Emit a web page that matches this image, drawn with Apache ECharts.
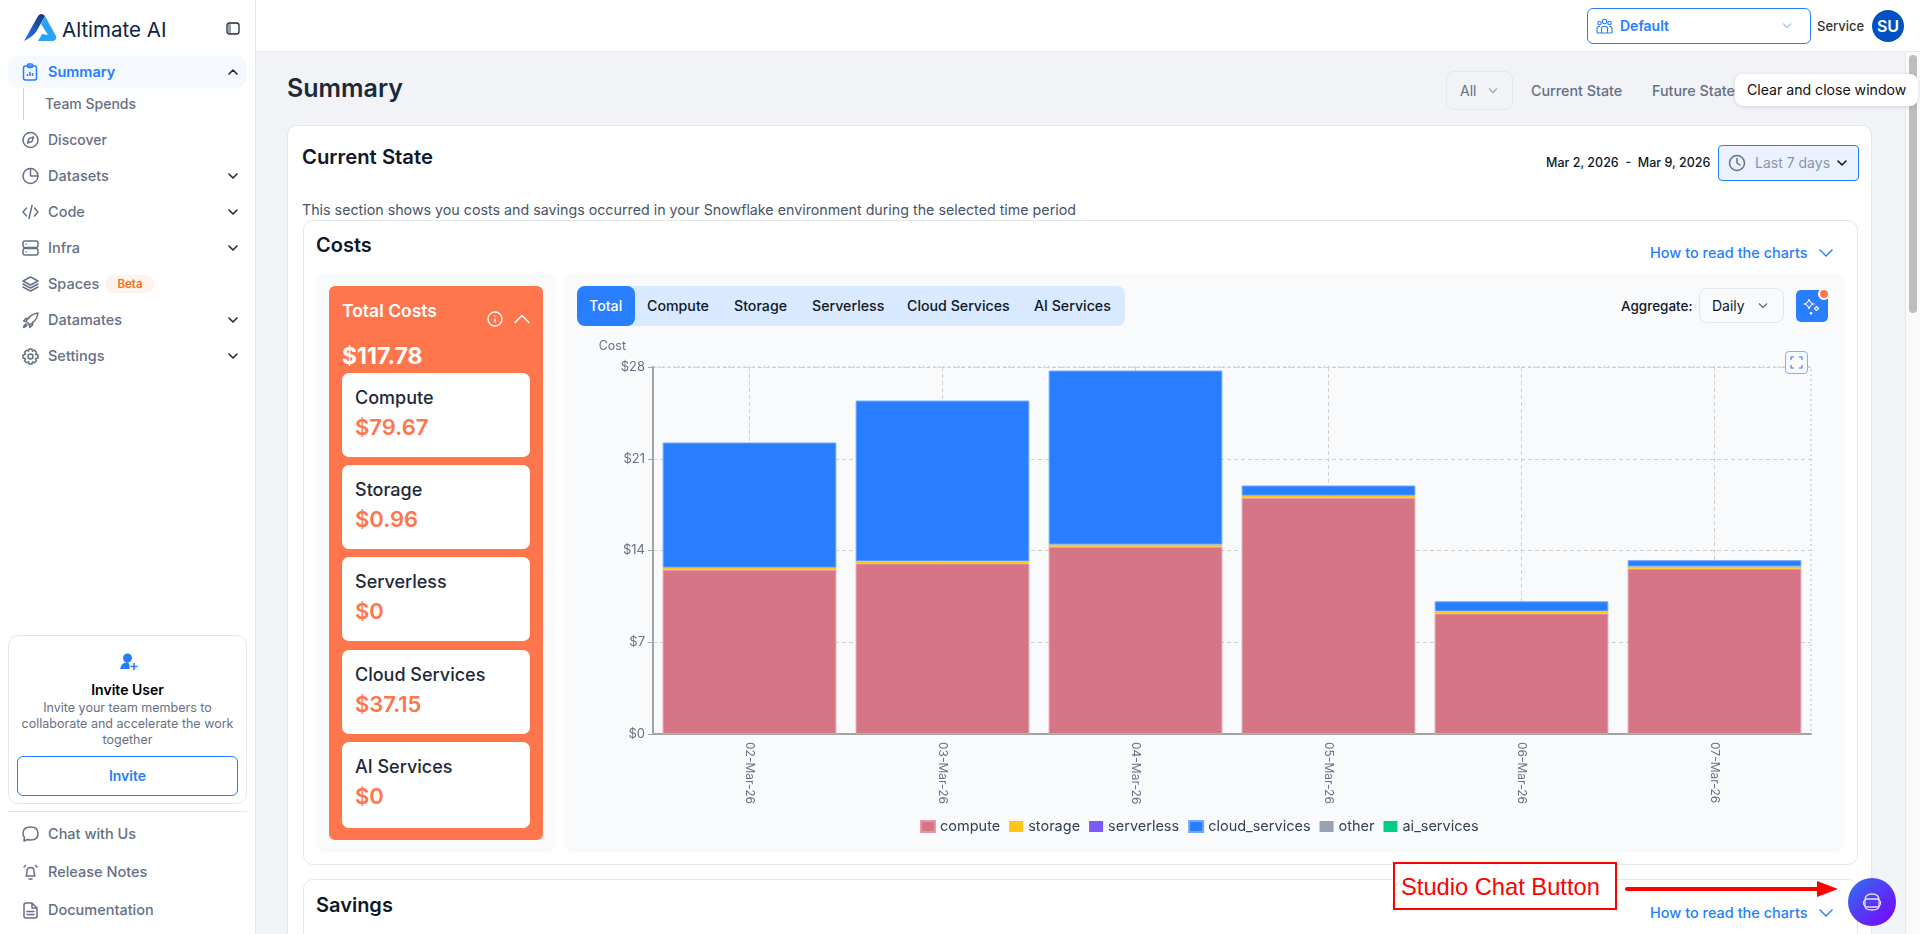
<!DOCTYPE html>
<html>
<head>
<meta charset="utf-8">
<title>Summary</title>
<script src="https://cdn.jsdelivr.net/npm/echarts@6/dist/echarts.min.js"></script>
<style>
  html, body { margin: 0; padding: 0; width: 1920px; height: 934px; overflow: hidden; background: #f2f3f7; font-family: Inter, "Noto Sans", sans-serif; color: #1d2939; }
  div, svg { position: absolute; box-sizing: border-box; }
  .t { white-space: nowrap; line-height: 20px; height: 20px; transform: translateY(-10px); }
  .nav { left: 48px; font-size: 14.5px; font-weight: 500; color: #667085; }
  .ic { fill: none; stroke: #667085; stroke-width: 1.5; stroke-linecap: round; stroke-linejoin: round; }
  .chev { fill: none; stroke: #1d2939; stroke-width: 1.6; stroke-linecap: round; stroke-linejoin: round; }
  .card { left: 342px; width: 188px; height: 84px; background: #fff; border-radius: 7px; }
  .card .l { left: 13px; top: 14px; font-size: 18px; font-weight: 500; white-space: nowrap; color: #1d2939; }
  .card .v { left: 13px; top: 41px; font-size: 22px; font-weight: 600; white-space: nowrap; color: #ff754c; }
  .tab { font-size: 14.2px; font-weight: 500; color: #101828; top: 306px; }
  .how { font-size: 14.5px; font-weight: 500; color: #247eff; left: 1650px; }
</style>
</head>
<body>

<!-- top bar -->
<div style="left:0;top:0;width:1920px;height:52px;background:#fff;border-bottom:1px solid #e8eaef"></div>
<div style="left:1587px;top:8px;width:224px;height:36px;border:1.5px solid #247eff;border-radius:6px;background:#fff"></div>
<svg style="left:1596px;top:18px" width="17" height="16" viewBox="0 0 17 16"><g fill="none" stroke="#247eff" stroke-width="1.1"><circle cx="8.5" cy="3.5" r="2.2"/><circle cx="3.5" cy="5" r="1.7"/><circle cx="13.5" cy="5" r="1.7"/><path d="M5.5 15V9.5q3-2.5 6 0V15M1 15V10q1-2 3-1.500M16 15V10q-1-2-3-1.500M1 15h15"/></g></svg>
<div class="t" style="left:1620px;top:26px;font-size:14px;font-weight:600;color:#247eff">Default</div>
<svg style="left:1781px;top:22px" width="12" height="8" viewBox="0 0 12 8"><path d="M2 1.500l4 4 4-4" fill="none" stroke="#a9c8f5" stroke-width="1.400"/></svg>
<div class="t" style="left:1817px;top:26px;font-size:13px;font-weight:500;color:#333">Service</div>
<div style="left:1872px;top:10px;width:32px;height:32px;border-radius:50%;background:#0052c4"></div>
<div class="t" style="left:1872px;width:32px;text-align:center;top:26px;font-size:16px;font-weight:600;color:#fff">SU</div>

<!-- sidebar -->
<div style="left:0;top:0;width:256px;height:934px;background:#fff;border-right:1px solid #e4e7ec"></div>
<svg style="left:24px;top:14px" width="33" height="28" viewBox="0 0 33 28"><defs><linearGradient id="lg" x1="0" y1="1" x2="1" y2="0"><stop offset="0" stop-color="#247eff"/><stop offset="1" stop-color="#10327a"/></linearGradient></defs><path d="M0 27L14 2q3-4 7 0l-9 16q-5 6-12 9z" fill="url(#lg)"/><path d="M21 2l11 20q1 5-4 5H14l4-7 6 1-7-11z" fill="#2aa2f5"/></svg>
<div class="t" style="left:62px;top:30px;font-size:20.500px;font-weight:400;color:#10213f">Altimate AI</div>
<svg style="left:226px;top:22px" width="14" height="13" viewBox="0 0 14 13"><rect x="1" y="1" width="12" height="11" rx="2.500" fill="none" stroke="#1d2939" stroke-width="1.300"/><rect x="2" y="2" width="3" height="9" fill="#98a2b3"/></svg>

<div style="left:8px;top:56px;width:239px;height:32px;background:#f5f8ff;border-radius:10px"></div>
<svg style="left:22px;top:63px" width="16" height="18" viewBox="0 0 16 18"><g fill="none" stroke="#247eff" stroke-width="1.500"><rect x="1.500" y="3" width="13" height="14" rx="2"/><rect x="5.500" y="1" width="5" height="3.500" rx="1"/><path d="M5.500 13v-2M8 13V9M10.500 13v-3"/></g></svg>
<div class="t nav" style="top:72px;color:#247eff;font-weight:600">Summary</div>
<svg style="left:227px;top:68px" width="12" height="8" viewBox="0 0 12 8"><path class="chev" d="M2 6l4-4 4 4"/></svg>
<div style="left:23px;top:88px;width:1px;height:32px;background:#d0d5dd"></div>
<div class="t nav" style="left:45px;top:104px;font-size:14px">Team Spends</div>

<svg class="ic" style="left:22px;top:131px" width="17" height="18" viewBox="0 0 17 18"><circle cx="8.500" cy="9" r="7.500"/><path d="M11.500 6l-1.500 4.500L5.500 12 7 7.500z"/></svg>
<div class="t nav" style="top:140px;font-size:14px">Discover</div>

<svg class="ic" style="left:22px;top:167px" width="17" height="18" viewBox="0 0 17 18"><circle cx="8.500" cy="9" r="7.500"/><path d="M8.500 1.500V9H16"/></svg>
<div class="t nav" style="top:176px">Datasets</div>
<svg style="left:227px;top:172px" width="12" height="8" viewBox="0 0 12 8"><path class="chev" d="M2 2l4 4 4-4"/></svg>

<svg class="ic" style="left:22px;top:204px" width="17" height="16" viewBox="0 0 17 16"><path d="M4.500 4L1 8l3.500 4M12.500 4L16 8l-3.500 4M10 1.500L7 14.500"/></svg>
<div class="t nav" style="top:212px">Code</div>
<svg style="left:227px;top:208px" width="12" height="8" viewBox="0 0 12 8"><path class="chev" d="M2 2l4 4 4-4"/></svg>

<svg class="ic" style="left:22px;top:240px" width="17" height="16" viewBox="0 0 17 16"><rect x="1" y="1" width="15" height="6.500" rx="2"/><rect x="1" y="8.500" width="15" height="6.500" rx="2"/><path d="M4 4.200h.1M4 11.800h.1"/></svg>
<div class="t nav" style="top:248px">Infra</div>
<svg style="left:227px;top:244px" width="12" height="8" viewBox="0 0 12 8"><path class="chev" d="M2 2l4 4 4-4"/></svg>

<svg class="ic" style="left:22px;top:276px" width="17" height="16" viewBox="0 0 17 16"><path d="M8.500 1L16 5l-7.500 4L1 5zM1 8l7.500 4L16 8M1 11l7.500 4 7.500-4"/></svg>
<div class="t nav" style="top:284px">Spaces</div>
<div style="left:105px;top:275px;width:50px;height:18px;background:#fff4ed;border-radius:9px"></div>
<div class="t" style="left:105px;width:50px;text-align:center;top:284px;font-size:11.500px;font-weight:600;color:#ff6b1a">Beta</div>

<svg class="ic" style="left:22px;top:312px" width="17" height="17" viewBox="0 0 17 17"><path d="M6 11L4 9.500Q8 2 16 1q-1 8-8.500 12zM4 9.500L1.500 9 4 6.500h3M7.500 13l.5 2.500 2.500-2.500v-3M4 12q-2 1-2.500 3.500Q4 15 5 13"/></svg>
<div class="t nav" style="top:320px">Datamates</div>
<svg style="left:227px;top:316px" width="12" height="8" viewBox="0 0 12 8"><path class="chev" d="M2 2l4 4 4-4"/></svg>

<svg class="ic" style="left:22px;top:348px" width="17" height="17" viewBox="0 0 17 17"><circle cx="8.500" cy="8.500" r="2.500"/><path d="M7 1h3l.5 2.200 2-1 2 2.100-1 2 2.500.7v3l-2.500.7 1 2-2 2.100-2-1L10 16H7l-.5-2.200-2 1-2-2.100 1-2L1 10V7l2.500-.7-1-2 2-2.100 2 1z"/></svg>
<div class="t nav" style="top:356px">Settings</div>
<svg style="left:227px;top:352px" width="12" height="8" viewBox="0 0 12 8"><path class="chev" d="M2 2l4 4 4-4"/></svg>

<div style="left:8px;top:635px;width:239px;height:169px;border:1px solid #e4e7ec;border-radius:10px"></div>
<svg style="left:120px;top:653px" width="18" height="18" viewBox="0 0 18 18"><circle cx="7.500" cy="5" r="4.500" fill="#247eff"/><path d="M0 16q1-6 7.500-7 2 1 2 3.500V16z" fill="#247eff"/><path d="M14 10v7M10.500 13.500h7" stroke="#247eff" stroke-width="1.600"/></svg>
<div class="t" style="left:8px;width:239px;text-align:center;top:690px;font-size:14px;font-weight:600;color:#000">Invite User</div>
<div class="t" style="left:8px;width:239px;text-align:center;top:708px;font-size:12.500px;color:#667085">Invite your team members to</div>
<div class="t" style="left:8px;width:239px;text-align:center;top:724px;font-size:12.500px;color:#667085">collaborate and accelerate the work</div>
<div class="t" style="left:8px;width:239px;text-align:center;top:740px;font-size:12.500px;color:#667085">together</div>
<div style="left:17px;top:756px;width:221px;height:40px;border:1px solid #247eff;border-radius:6px"></div>
<div class="t" style="left:17px;width:221px;text-align:center;top:776px;font-size:14px;font-weight:600;color:#247eff">Invite</div>
<div style="left:8px;top:811px;width:239px;height:1px;background:#e4e7ec"></div>
<svg class="ic" style="left:22px;top:826px" width="17" height="16" viewBox="0 0 17 16"><path d="M2 15l.5-3.500Q1 9.800 1 7.500 1 1 8.500 1T16 7.500 8.500 14q-2 0-3-.5z"/></svg>
<div class="t nav" style="top:834px">Chat with Us</div>
<svg class="ic" style="left:22px;top:864px" width="17" height="17" viewBox="0 0 17 17"><path d="M4 12q1-2 1-5 0-3.500 3.500-3.500T12 7q0 3 1 5zM7 15h3M2 3l1.500-1.500M15 3l-1.500-1.500"/></svg>
<div class="t nav" style="top:872px">Release Notes</div>
<svg class="ic" style="left:23px;top:902px" width="15" height="17" viewBox="0 0 15 17"><path d="M3 1h6l5 5v8q0 2-2 2H3q-2 0-2-2V3q0-2 2-2zM9 1v5h5M4 9.500h7M4 12.500h7"/></svg>
<div class="t nav" style="top:910px">Documentation</div>

<!-- page head -->
<div class="t" style="left:287px;top:88px;font-size:25px;font-weight:600;color:#1d2939">Summary</div>
<div style="left:1446px;top:71px;width:67px;height:39px;border:1px solid #e4e7ec;border-radius:8px"></div>
<div class="t" style="left:1460px;top:91px;font-size:14px;color:#667085">All</div>
<svg style="left:1487px;top:87px" width="12" height="8" viewBox="0 0 12 8"><path d="M2 1.500l4 4 4-4" fill="none" stroke="#a0a8b5" stroke-width="1.300"/></svg>
<div class="t" style="left:1531px;top:91px;font-size:14.300px;font-weight:500;color:#667085">Current State</div>
<div class="t" style="left:1652px;top:91px;font-size:14.300px;font-weight:500;color:#667085">Future State</div>

<!-- main card -->
<div style="left:287px;top:125px;width:1585px;height:830px;background:#fff;border:1px solid #e4e7ec;border-radius:10px"></div>
<div class="t" style="left:302px;top:157px;font-size:20.300px;font-weight:600;color:#101828">Current State</div>
<div class="t" style="left:1546px;top:163px;font-size:12.500px;font-weight:500;color:#101828">Mar 2, 2026&nbsp; - &nbsp;Mar 9, 2026</div>
<div style="left:1718px;top:145px;width:141px;height:36px;background:#eaf2ff;border:1px solid #247eff;border-radius:4px"></div>
<svg class="ic" style="left:1728px;top:154px" width="18" height="18" viewBox="0 0 18 18"><circle cx="9" cy="9" r="7.500"/><path d="M9 4.500V9l3 2"/></svg>
<div class="t" style="left:1755px;top:163px;font-size:14px;color:#8a94a6">Last 7 days</div>
<svg style="left:1836px;top:159px" width="12" height="8" viewBox="0 0 12 8"><path class="chev" d="M2 2l4 4 4-4" style="stroke:#101828"/></svg>
<div class="t" style="left:302px;top:210px;font-size:14.250px;color:#475467">This section shows you costs and savings occurred in your Snowflake environment during the selected time period</div>

<!-- costs card -->
<div style="left:303px;top:220px;width:1555px;height:645px;background:#fff;border:1px solid #e4e7ec;border-radius:10px"></div>
<div class="t" style="left:316px;top:245px;font-size:20px;font-weight:600;color:#101828">Costs</div>
<div class="t how" style="top:253px">How to read the charts</div>
<svg style="left:1818px;top:248px" width="16" height="10" viewBox="0 0 16 10"><path d="M1.500 1.500L8 8l6.500-6.500" fill="none" stroke="#247eff" stroke-width="1.400"/></svg>

<!-- cost summary -->
<div style="left:316px;top:273px;width:240px;height:579px;background:#f9fafc;border-radius:10px"></div>
<div style="left:329px;top:286px;width:214px;height:554px;background:#ff754c;border-radius:6px"></div>
<div class="t" style="left:342px;top:311px;font-size:17.500px;font-weight:600;color:#fff">Total Costs</div>
<svg style="left:487px;top:311px" width="16" height="16" viewBox="0 0 16 16"><g fill="none" stroke="#fff" stroke-width="1.300"><circle cx="8" cy="8" r="7"/><path d="M8 7.500v4M8 4.500v1"/></g></svg>
<svg style="left:513px;top:313px" width="18" height="12" viewBox="0 0 18 12"><path d="M1.500 10L9 2.500 16.500 10" fill="none" stroke="#fff" stroke-width="1.500"/></svg>
<div class="t" style="left:342px;top:356px;font-size:23px;font-weight:700;color:#fff">$117.78</div>
<div class="card" style="top:373px"><div class="l">Compute</div><div class="v">$79.67</div></div>
<div class="card" style="top:465px"><div class="l">Storage</div><div class="v">$0.96</div></div>
<div class="card" style="top:557px"><div class="l">Serverless</div><div class="v">$0</div></div>
<div class="card" style="top:650px"><div class="l">Cloud Services</div><div class="v">$37.15</div></div>
<div class="card" style="top:742px;height:86px"><div class="l">AI Services</div><div class="v">$0</div></div>

<!-- chart panel -->
<div style="left:564px;top:273px;width:1281px;height:579px;background:#f9fafc;border-radius:10px"></div>
<div style="left:577px;top:286px;width:548px;height:40px;background:#d9e9ff;border-radius:8px"></div>
<div style="left:577px;top:286px;width:58px;height:40px;background:#287eff;border-radius:8px"></div>
<div class="t tab" style="left:589px;color:#fff">Total</div>
<div class="t tab" style="left:647px">Compute</div>
<div class="t tab" style="left:734px">Storage</div>
<div class="t tab" style="left:812px">Serverless</div>
<div class="t tab" style="left:907px">Cloud Services</div>
<div class="t tab" style="left:1034px">AI Services</div>
<div class="t" style="left:1621px;top:306px;font-size:13.500px;font-weight:500;color:#101828">Aggregate:</div>
<div style="left:1699px;top:288px;width:85px;height:35px;border:1px solid #e4e7ec;border-radius:8px"></div>
<div class="t" style="left:1712px;top:306px;font-size:14px;color:#101828">Daily</div>
<svg style="left:1757px;top:302px" width="12" height="8" viewBox="0 0 12 8"><path d="M2 1.500l4 4 4-4" fill="none" stroke="#667085" stroke-width="1.300"/></svg>
<div style="left:1796px;top:290px;width:32px;height:32px;background:#287eff;border-radius:5px"></div>
<svg style="left:1802px;top:296px" width="20" height="22" viewBox="0 0 20 22"><g fill="none" stroke="#fff" stroke-width="1.200"><path d="M7 3q.8 4 4.500 5Q7.800 9 7 13q-.8-4-4.500-5Q6.200 7 7 3z"/><path d="M14.500 10q.4 2 2.500 2.500-2.100.5-2.500 2.500-.4-2-2.500-2.500 2.100-.5 2.500-2.500z"/><path d="M9 16q.2 1 1.200 1.200Q9.200 17.500 9 18.500q-.2-1-1.200-1.300Q8.800 17 9 16z"/></g></svg>
<div style="left:1817.500px;top:288px;width:12px;height:12px;background:#ff754c;border:2px solid #fff;border-radius:50%"></div>

<!-- chart -->
<div id="costChart" style="left:565px;top:330px;width:1280px;height:520px"></div>
<div style="left:1785px;top:351px;width:23px;height:23px;border:1px solid #7fb0fb;border-radius:4px;background:#f9fafc"></div>
<svg style="left:1790px;top:356px" width="13" height="13" viewBox="0 0 13 13"><path d="M1 4V1h3M9 1h3v3M12 9v3H9M4 12H1V9" fill="none" stroke="#247eff" stroke-width="1.100"/></svg>

<!-- savings card -->
<div style="left:303px;top:879px;width:1555px;height:80px;background:#fff;border:1px solid #e4e7ec;border-radius:10px"></div>
<div class="t" style="left:316px;top:905px;font-size:20px;font-weight:600;color:#101828">Savings</div>
<div class="t how" style="top:913px">How to read the charts</div>
<svg style="left:1818px;top:908px" width="16" height="10" viewBox="0 0 16 10"><path d="M1.500 1.500L8 8l6.500-6.500" fill="none" stroke="#247eff" stroke-width="1.400"/></svg>

<!-- scrollbar -->
<div style="left:1905px;top:52px;width:15px;height:882px;background:#fafafa;border-left:1px solid #e8e8e8"></div>
<div style="left:1909px;top:55px;width:8px;height:258px;background:#bdbdbd;border-radius:4px"></div>

<!-- tooltip -->
<div style="left:1735px;top:74px;width:183px;height:32px;background:#fff;border-radius:8px;box-shadow:0 1px 4px rgba(16,24,40,.14)"></div>
<div class="t" style="left:1747px;top:90px;font-size:14.100px;font-weight:400;color:#101010">Clear and close window</div>

<!-- annotation -->
<div style="left:1393px;top:862px;width:224px;height:48px;background:#fff;border:2px solid #f00"></div>
<div class="t" style="left:1401px;top:887px;font-family:'Liberation Sans',sans-serif;font-size:23.700px;color:#f00">Studio Chat Button</div>
<svg style="left:1620px;top:875px" width="222" height="30" viewBox="0 0 222 30"><path d="M7 14h195" stroke="#f00" stroke-width="4" stroke-linecap="round"/><path d="M197 6l21 8-21 8z" fill="#f00"/></svg>
<div style="left:1848px;top:878px;width:48px;height:48px;border-radius:50%;background:linear-gradient(135deg,#2f72ee,#7a00ff)"></div>
<svg style="left:1861px;top:892px" width="22" height="20" viewBox="0 0 22 20"><g fill="none" stroke="#e8e4ff" stroke-width="1.300"><path d="M4 8q0-6 7-6t7 6v6q0 4-7 4t-7-4z"/><rect x="2.500" y="7" width="17" height="8" rx="4"/><path d="M8 11h.1M14 11h.1" stroke-width="2"/></g></svg>

<script>
    // values
    var dates = ['02-Mar-26', '03-Mar-26', '04-Mar-26', '05-Mar-26', '06-Mar-26', '07-Mar-26'];
    var computeCosts = [12.53, 13.01, 14.29, 18.02, 9.19, 12.61];
    var storageCosts = [0.16, 0.16, 0.16, 0.16, 0.16, 0.16];
    var serverlessCosts = [0, 0, 0, 0, 0, 0];
    var cloudServicesCosts = [9.55, 12.27, 13.28, 0.78, 0.77, 0.49];
    var otherCosts = [0, 0, 0, 0, 0, 0];
    var aiServicesCosts = [0, 0, 0, 0, 0, 0];
    var yTicks = { min: 0, max: 28, step: 7 };

    function barSeries(name, values, color, edge) {
        return {
            name: name,
            type: 'bar',
            stack: 'cost',
            barCategoryGap: '10%',
            data: values,
            itemStyle: {
                color: color,
                borderColor: edge || color,
                borderWidth: edge ? 1 : 0
            }
        };
    }

    var costChart = echarts.init(document.getElementById('costChart'));
    var option = {
        animation: false,
        textStyle: { fontFamily: 'Inter' },
        grid: {
            show: true,
            left: 88,
            top: 37,
            width: 1158,
            height: 367,
            outerBoundsMode: 'none',
            backgroundColor: 'transparent',
            borderColor: '#d8dadd',
            borderWidth: 2,
            borderType: [2, 3]
        },
        legend: {
            left: 355,
            top: 489,
            padding: 0,
            icon: 'rect',
            itemWidth: 14,
            itemHeight: 11,
            itemGap: 9,
            textStyle: { color: '#344054', fontSize: 14.5, fontFamily: 'Inter' },
            data: ['compute', 'storage', 'serverless', 'cloud_services', 'other', 'ai_services']
        },
        xAxis: {
            type: 'category',
            data: dates,
            axisLine: { lineStyle: { color: '#a3a3a3', width: 2 } },
            axisTick: { alignWithLabel: true, length: 5, lineStyle: { color: '#667085' } },
            axisLabel: { rotate: -90, margin: 8, color: '#667085', fontSize: 12, fontFamily: 'Inter' },
            splitLine: { show: true, alignWithLabel: true, lineStyle: { color: '#d0d0d0', type: [4, 3] } }
        },
        yAxis: {
            type: 'value',
            name: 'Cost',
            nameGap: 14,
            nameTextStyle: { color: '#667085', fontSize: 12.5, align: 'right', padding: [0, 27, 0, 0] },
            min: yTicks.min,
            max: yTicks.max,
            interval: yTicks.step,
            axisLine: { show: true, lineStyle: { color: '#a3a3a3', width: 2 } },
            axisTick: { show: true, length: 5, lineStyle: { color: '#a3a3a3' } },
            axisLabel: { margin: 8, color: '#667085', fontSize: 13, fontFamily: 'Inter', formatter: '${value}' },
            splitLine: { show: true, lineStyle: { color: '#d0d0d0', type: [4, 3] } }
        },
        series: [
            barSeries('compute', computeCosts, '#d67586', '#e59aa8'),
            barSeries('storage', storageCosts, '#ffc414'),
            barSeries('serverless', serverlessCosts, '#7a5af8'),
            barSeries('cloud_services', cloudServicesCosts, '#287eff', '#6ea8ff'),
            barSeries('other', otherCosts, '#98a2b3'),
            barSeries('ai_services', aiServicesCosts, '#00ce88')
        ]
    };
    costChart.setOption(option);
</script>
</body>
</html>
